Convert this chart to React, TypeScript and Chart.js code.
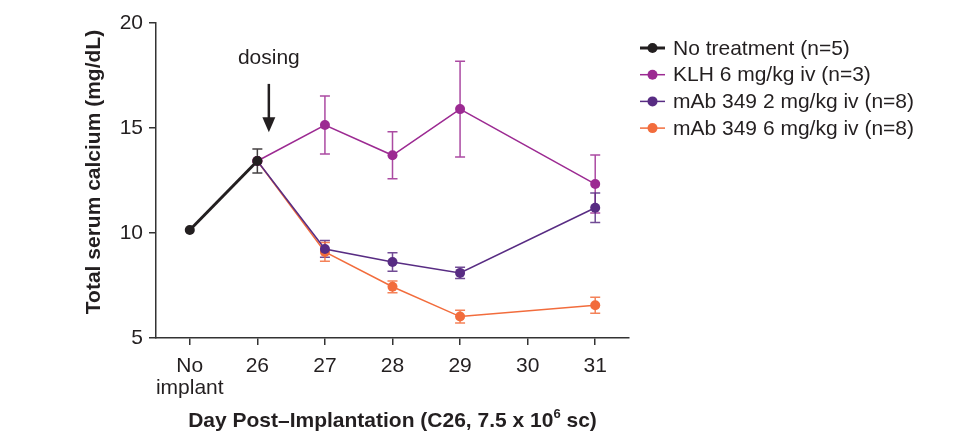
import { useEffect, useRef } from 'react';
import { Chart, registerables } from 'chart.js';

Chart.register(...registerables);

const categories: (string | string[])[] = [['No', 'implant'], '26', '27', '28', '29', '30', '31'];

const seriesLabels = ['No treatment (n=5)', 'KLH 6 mg/kg iv (n=3)', 'mAb 349 2 mg/kg iv (n=8)', 'mAb 349 6 mg/kg iv (n=8)'];
const seriesColors = ['#231f20', '#9c2a92', '#582c83', '#f26c3c'];

const noTreatment = [10.14, 13.43, null, null, null, null, null];
const noTreatmentErr = [0, 0.57, null, null, null, null, null];
const klh = [null, 13.43, 15.14, 13.7, 15.9, null, 12.33];
const klhErr = [null, 0, 1.38, 1.12, 2.28, null, 1.38];
const mab2 = [null, 13.43, 9.24, 8.62, 8.1, null, 11.2];
const mab2Err = [null, 0, 0.4, 0.44, 0.27, null, 0.7];
const mab6 = [null, 13.43, 9.1, 7.44, 6.02, null, 6.56];
const mab6Err = [null, 0, 0.45, 0.28, 0.3, null, 0.38];

const yTicks = [5, 10, 15, 20];
const yTitle = 'Total serum calcium (mg/dL)';
const dosingLabel = 'dosing';
const dosingDay = 1.17;

const FONT = '"Liberation Sans", Arial, sans-serif';
const FS = 21;
const TEXT = '#231f20';
const AXIS = '#333333';

const errors = [noTreatmentErr, klhErr, mab2Err, mab6Err];

const errorBarPlugin = {
  id: 'errorBars',
  beforeDatasetsDraw(chart: any) {
    const { ctx, scales } = chart;
    const x = scales.x;
    const y = scales.y;
    chart.data.datasets.forEach((ds: any, di: number) => {
      const errs = errors[di];
      ctx.save();
      ctx.strokeStyle = ds.borderColor;
      ctx.globalAlpha = 0.85;
      ctx.lineWidth = 1.5;
      ds.data.forEach((v: number | null, i: number) => {
        const e = errs[i];
        if (v == null || e == null || e === 0) return;
        const px = x.getPixelForValue(i);
        const top = y.getPixelForValue(v + e);
        const bot = y.getPixelForValue(v - e);
        ctx.beginPath();
        ctx.moveTo(px, top);
        ctx.lineTo(px, bot);
        ctx.moveTo(px - 5, top);
        ctx.lineTo(px + 5, top);
        ctx.moveTo(px - 5, bot);
        ctx.lineTo(px + 5, bot);
        ctx.stroke();
      });
      ctx.restore();
    });
  },
};

const decorPlugin = {
  id: 'decor',
  afterDraw(chart: any) {
    const { ctx, scales, chartArea } = chart;
    const x = scales.x;
    const y = scales.y;
    ctx.save();
    // y title
    ctx.save();
    ctx.translate(94, 172);
    ctx.rotate(-Math.PI / 2);
    ctx.font = `bold ${FS}px ${FONT}`;
    ctx.fillStyle = TEXT;
    ctx.textAlign = 'center';
    ctx.textBaseline = 'middle';
    ctx.fillText(yTitle, 0, 0);
    ctx.restore();

    // dosing annotation
    const ax = x.getPixelForValue(dosingDay);
    ctx.fillStyle = TEXT;
    ctx.strokeStyle = TEXT;
    ctx.font = `${FS}px ${FONT}`;
    ctx.textAlign = 'center';
    ctx.textBaseline = 'middle';
    ctx.fillText(dosingLabel, ax, y.getPixelForValue(18.33));
    const a0 = y.getPixelForValue(17.1);
    const a1 = y.getPixelForValue(14.8);
    ctx.lineWidth = 2.5;
    ctx.beginPath();
    ctx.moveTo(ax, a0);
    ctx.lineTo(ax, a1 - 12);
    ctx.stroke();
    ctx.beginPath();
    ctx.moveTo(ax - 6.5, a1 - 15);
    ctx.lineTo(ax + 6.5, a1 - 15);
    ctx.lineTo(ax, a1);
    ctx.closePath();
    ctx.fill();

    // x title with superscript
    ctx.font = `bold ${FS}px ${FONT}`;
    ctx.textAlign = 'left';
    ctx.textBaseline = 'alphabetic';
    const p1 = 'Day Post\u2013Implantation (C26, 7.5 x 10';
    const sup = '6';
    const p2 = ' sc)';
    const w1 = ctx.measureText(p1).width;
    const w3 = ctx.measureText(p2).width;
    ctx.font = `bold 13px ${FONT}`;
    const w2 = ctx.measureText(sup).width;
    const total = w1 + w2 + w3;
    const cx = (chartArea.left + chartArea.right) / 2;
    let sx = cx - total / 2;
    const base = 427;
    ctx.font = `bold ${FS}px ${FONT}`;
    ctx.fillText(p1, sx, base);
    sx += w1;
    ctx.font = `bold 13px ${FONT}`;
    ctx.fillText(sup, sx, base - 9);
    sx += w2;
    ctx.font = `bold ${FS}px ${FONT}`;
    ctx.fillText(p2, sx, base);

    // legend
    ctx.font = `${FS}px ${FONT}`;
    ctx.textBaseline = 'middle';
    chart.data.datasets.forEach((ds: any, i: number) => {
      const ly = 48 + i * 26.7;
      ctx.strokeStyle = ds.borderColor;
      ctx.fillStyle = ds.borderColor;
      ctx.lineWidth = i === 0 ? 3 : 1.5;
      ctx.beginPath();
      ctx.moveTo(640, ly);
      ctx.lineTo(665, ly);
      ctx.stroke();
      ctx.beginPath();
      ctx.arc(652.5, ly, 5, 0, Math.PI * 2);
      ctx.fill();
      ctx.fillStyle = TEXT;
      ctx.fillText(ds.label, 673, ly + 1);
    });
    ctx.restore();
  },
};

export default function App() {
  const ref = useRef<HTMLCanvasElement | null>(null);
  useEffect(() => {
    document.body.style.margin = '0';
    const canvas = ref.current;
    if (!canvas) return;
    const values = [noTreatment, klh, mab2, mab6];
    const chart = new Chart(canvas, {
      type: 'line',
      data: {
        labels: categories as any,
        datasets: values.map((d, i) => ({
          label: seriesLabels[i],
          data: d,
          borderColor: seriesColors[i],
          backgroundColor: seriesColors[i],
          borderWidth: i === 0 ? 3 : 1.5,
          pointRadius: 5,
          pointBorderWidth: 0,
          pointHoverRadius: 5,
          spanGaps: true,
          tension: 0,
        })),
      },
      options: {
        animation: false,
        responsive: false,
        devicePixelRatio: 1,
        layout: { padding: { left: 80, right: 330, top: 23, bottom: 0 } },
        plugins: { legend: { display: false }, tooltip: { enabled: false } },
        scales: {
          x: {
            type: 'category',
            offset: true,
            grid: { offset: false, drawOnChartArea: false, drawTicks: true, tickLength: 7, color: AXIS, lineWidth: 1.5 },
            border: { color: AXIS, width: 1.5 },
            ticks: { color: TEXT, font: { family: FONT, size: FS, lineHeight: 1.05 }, padding: 10, maxRotation: 0, autoSkip: false },
            afterFit(scale: any) {
              scale.height = 98;
            },
          },
          y: {
            type: 'linear',
            min: 5,
            max: 20,
            afterBuildTicks(scale: any) {
              scale.ticks = yTicks.map((v) => ({ value: v }));
            },
            grid: { drawOnChartArea: false, drawTicks: true, tickLength: 7, color: AXIS, lineWidth: 1.5 },
            border: { color: AXIS, width: 1.5 },
            ticks: { color: TEXT, font: { family: FONT, size: FS }, padding: 6 },
            title: { display: false },
            afterFit(scale: any) {
              scale.width = 156 - 80;
            },
          },
        },
      },
      plugins: [errorBarPlugin, decorPlugin],
    } as any);
    return () => chart.destroy();
  }, []);
  return <canvas ref={ref} width={959} height={436} style={{ display: 'block' }} />;
}
